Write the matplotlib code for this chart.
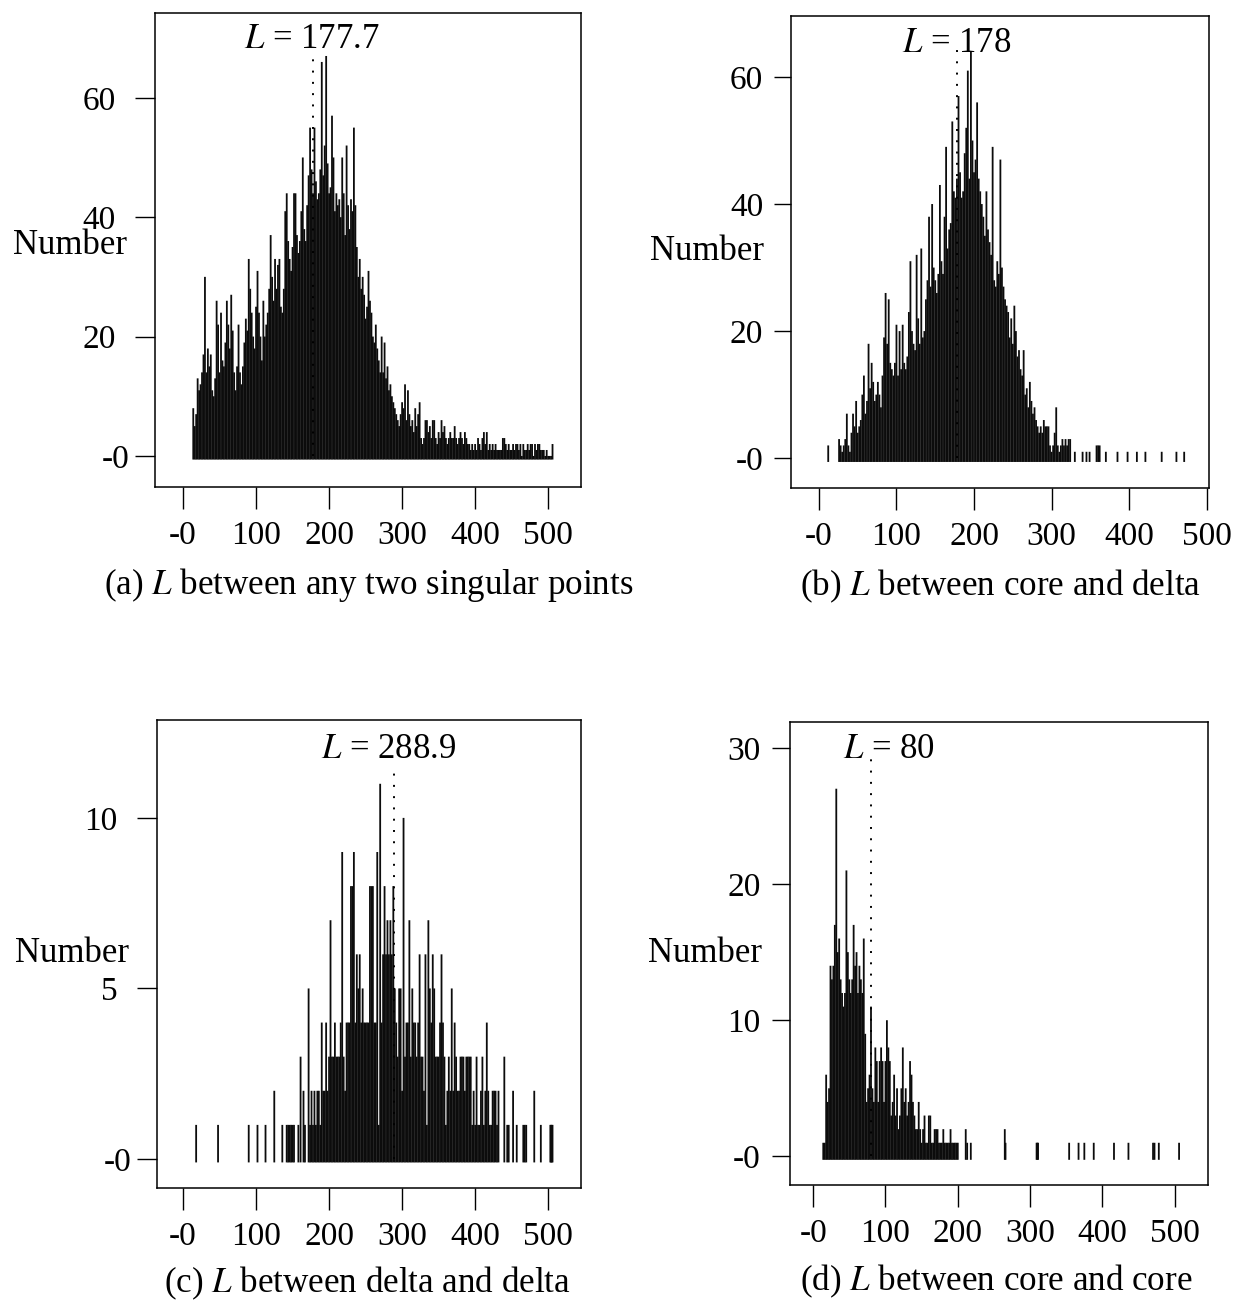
import matplotlib
matplotlib.use('Agg')
import matplotlib.pyplot as plt
from matplotlib.transforms import ScaledTranslation

plt.rcParams['font.family'] = ['Liberation Serif', 'DejaVu Serif']
plt.rcParams['mathtext.fontset'] = 'stix'

W, H = 1236, 1300

# Panel (a): dense part, one count for every second length
lengths_a = list(range(14, 508, 2))
counts_a = [8, 5, 7, 13, 11, 12, 14, 17, 30, 14,
            18, 15, 17, 11, 10, 13, 26, 22, 14, 24,
            16, 15, 19, 26, 22, 18, 27, 21, 14, 11,
            15, 22, 14, 12, 15, 19, 23, 21, 33, 28,
            24, 20, 18, 25, 31, 24, 20, 16, 26, 20,
            22, 24, 28, 37, 30, 26, 33, 28, 32, 33,
            25, 24, 28, 41, 44, 36, 33, 31, 35, 44,
            44, 37, 34, 36, 41, 50, 38, 36, 42, 47,
            55, 48, 44, 55, 46, 43, 44, 48, 66, 47,
            52, 67, 49, 44, 45, 57, 50, 41, 44, 42,
            43, 40, 50, 44, 37, 52, 42, 38, 43, 41,
            55, 42, 35, 30, 33, 28, 30, 27, 23, 25,
            31, 26, 24, 20, 19, 22, 18, 16, 14, 20,
            14, 19, 13, 15, 11, 12, 10, 9, 8, 7,
            6, 5, 7, 9, 8, 12, 6, 11, 7, 5,
            6, 4, 8, 5, 7, 9, 3, 2, 3, 6,
            6, 4, 5, 3, 6, 6, 3, 2, 4, 3,
            6, 4, 5, 3, 2, 3, 4, 3, 3, 5,
            3, 2, 3, 4, 3, 2, 4, 3, 2, 2,
            1, 2, 1, 2, 1, 3, 2, 1, 3, 4,
            2, 4, 1, 2, 1, 2, 1, 2, 1, 1,
            1, 1, 3, 3, 2, 1, 2, 1, 1, 2,
            1, 2, 2, 1, 2, 0, 2, 1, 1, 2,
            1, 2, 2, 0, 2, 1, 2, 2, 1, 1,
            1, 0, 1, 0, 0, 0, 2]

# Panel (b)
lengths_b = list(range(26, 326, 2))
counts_b = [3, 2, 1, 2, 3, 7, 2, 1, 4, 7,
            5, 9, 4, 5, 6, 10, 13, 7, 9, 18,
            11, 15, 12, 9, 10, 12, 10, 8, 13, 19,
            26, 18, 25, 15, 14, 13, 15, 21, 13, 20,
            14, 21, 15, 14, 16, 23, 31, 20, 18, 17,
            32, 22, 18, 33, 19, 20, 25, 28, 38, 27,
            40, 30, 28, 26, 29, 43, 31, 29, 38, 49,
            33, 36, 37, 53, 42, 41, 44, 57, 45, 41,
            42, 48, 52, 61, 44, 64, 50, 45, 47, 56,
            44, 42, 40, 38, 35, 42, 36, 34, 32, 49,
            28, 27, 31, 29, 47, 30, 27, 25, 24, 23,
            19, 22, 18, 24, 20, 16, 17, 14, 13, 17,
            10, 11, 8, 12, 9, 7, 8, 6, 5, 4,
            5, 4, 6, 5, 5, 5, 2, 1, 2, 4,
            8, 2, 1, 2, 3, 2, 3, 2, 3, 3]
tail_lengths_b = [12, 330, 340, 345, 349, 358, 360, 362, 370, 385, 398, 410, 421, 442, 461, 471]
tail_counts_b = [2, 1, 1, 1, 1, 2, 2, 2, 1, 1, 1, 1, 1, 1, 1, 1]

# Panel (c)
lengths_c = list(range(172, 434, 2))
counts_c = [5, 1, 2, 1, 2, 1, 2, 2, 1, 4,
            2, 2, 4, 2, 3, 7, 3, 3, 4, 3,
            3, 3, 4, 9, 3, 2, 4, 4, 4, 8,
            8, 9, 4, 6, 5, 6, 4, 5, 4, 4,
            4, 4, 8, 8, 8, 4, 4, 9, 1, 11,
            4, 6, 8, 6, 7, 6, 7, 6, 8, 5,
            4, 3, 5, 5, 2, 10, 3, 4, 4, 7,
            3, 5, 4, 4, 3, 4, 6, 3, 3, 2,
            6, 1, 7, 5, 4, 6, 5, 3, 3, 3,
            4, 6, 4, 3, 1, 2, 3, 2, 5, 2,
            4, 3, 2, 2, 3, 3, 3, 2, 3, 3,
            3, 3, 1, 2, 1, 3, 1, 1, 2, 3,
            1, 2, 4, 2, 1, 1, 2, 2, 2, 1, 2]
tail_lengths_c = [18, 48, 90, 102, 113, 125, 136, 142, 144, 146, 148, 150, 152, 158, 161, 165, 167,
                  440, 444, 446, 452, 457, 466, 468, 470, 481, 490, 503, 504, 505, 506]
tail_counts_c = [1, 1, 1, 1, 1, 2, 1, 1, 1, 1, 1, 1, 1, 1, 3, 2, 1,
                 3, 1, 1, 2, 1, 1, 1, 1, 2, 1, 1, 1, 1, 1]

# Panel (d)
lengths_d = list(range(14, 202, 2))
counts_d = [1, 1, 6, 4, 5, 14, 13, 14, 17, 27,
            15, 16, 13, 12, 11, 12, 21, 15, 13, 12,
            13, 17, 14, 15, 12, 14, 13, 12, 16, 9,
            4, 5, 6, 11, 5, 4, 8, 7, 4, 7,
            8, 7, 4, 7, 10, 8, 7, 3, 4, 6,
            3, 5, 2, 3, 5, 8, 4, 5, 3, 4,
            7, 6, 4, 3, 2, 2, 4, 2, 1, 2,
            3, 1, 1, 3, 3, 1, 1, 2, 2, 2,
            1, 1, 1, 2, 1, 1, 1, 1, 2, 1,
            1, 1, 1, 1]
tail_lengths_d = [211, 213, 218, 265, 266, 309, 310, 311, 354, 367, 375, 388, 416, 436, 470, 472, 478, 506]
tail_counts_d = [2, 1, 1, 2, 1, 1, 1, 1, 1, 1, 1, 1, 1, 1, 1, 1, 1, 1]

x_ticks = [0, 100, 200, 300, 400, 500]
x_tick_labels = ['-0', '100', '200', '300', '400', '500']
y_ticks_ab = [0, 20, 40, 60]
y_labels_ab = ['-0', '20', '40', '60']
y_ticks_c = [0, 5, 10]
y_labels_c = ['-0', '5', '10']
y_ticks_d = [0, 10, 20, 30]
y_labels_d = ['-0', '10', '20', '30']

mean_lengths = [177.7, 178, 288.9, 80]
mean_labels = ['$L$ = 177.7', '$L$ = 178', '$L$ = 288.9', '$L$ = 80']
captions = ['(a) $L$ between any two singular points', '(b) $L$ between core and delta',
            '(c) $L$ between delta and delta', '(d) $L$ between core and core']

all_lengths = [lengths_a, lengths_b + tail_lengths_b, lengths_c + tail_lengths_c, lengths_d + tail_lengths_d]
all_counts = [counts_a, counts_b + tail_counts_b, counts_c + tail_counts_c, counts_d + tail_counts_d]
all_yticks = [y_ticks_ab, y_ticks_ab, y_ticks_c, y_ticks_d]
all_ylabels = [y_labels_ab, y_labels_ab, y_labels_c, y_labels_d]

# pixel layout: box (left, right, top, bottom), limits, text positions
boxes = [(155, 581, 13, 487), (791, 1209, 16, 488), (157, 581, 720, 1188), (790, 1208, 722, 1185)]
xlims = [(-38.4, 545), (-36, 503), (-35.6, 545), (-32, 546)]
ylims = [(-5.2, 74.2), (-4.7, 69.6), (-0.85, 12.87), (-2.1, 31.9)]
line_tops = [67.5, 65, 11.4, 29.2]
bases = [-0.6, -0.6, -0.1, -0.25]
number_pos = [(70, 246), (707, 251), (72, 953), (705, 953)]
mean_pos = [(312, 40), (957, 43), (389, 750), (889, 750)]
caption_pos = [(369, 585), (1000, 586), (367, 1283), (996, 1281)]
y_tick_len = [14.4, 12, 14.4, 13]
y_tick_pad = [14, 8, 14, 8]
zero_shift = [10, 0, 10, 0]  # points, '-0' sits closer to the tick in (a) and (c)

fig = plt.figure(figsize=(W / 100, H / 100), dpi=100)

for i in range(4):
    left, right, top, bottom = boxes[i]
    ax = fig.add_axes([left / W, 1 - bottom / H, (right - left) / W, (bottom - top) / H])
    ax.vlines(all_lengths[i], bases[i], all_counts[i], color='#0c0c0c', linewidth=1.3, snap=False)
    # dotted mean line
    ax.plot([mean_lengths[i], mean_lengths[i]], [0, line_tops[i]], color='black', linestyle=(0, (1, 4.8)), linewidth=1.4)
    ax.set_xlim(xlims[i])
    ax.set_ylim(ylims[i])
    ax.set_xticks(x_ticks)
    ax.set_xticklabels(x_tick_labels)
    ax.set_yticks(all_yticks[i])
    ax.set_yticklabels(all_ylabels[i])
    ax.tick_params(axis='x', length=16, width=1.0, labelsize=24, pad=8)
    ax.tick_params(axis='y', length=y_tick_len[i], width=1.0, labelsize=24, pad=y_tick_pad[i])
    lbl = ax.get_yticklabels()[0]
    lbl.set_transform(lbl.get_transform() + ScaledTranslation(zero_shift[i] / 72, 0, fig.dpi_scale_trans))
    for s in ax.spines.values():
        s.set_linewidth(1.1)
    fig.text(number_pos[i][0] / W, 1 - number_pos[i][1] / H, 'Number', fontsize=25, ha='center', va='center')
    fig.text(mean_pos[i][0] / W, 1 - mean_pos[i][1] / H, mean_labels[i], fontsize=25, ha='center', va='center')
    fig.text(caption_pos[i][0] / W, 1 - caption_pos[i][1] / H, captions[i], fontsize=25.2, ha='center', va='center')

fig.savefig('out.png', dpi=100)
